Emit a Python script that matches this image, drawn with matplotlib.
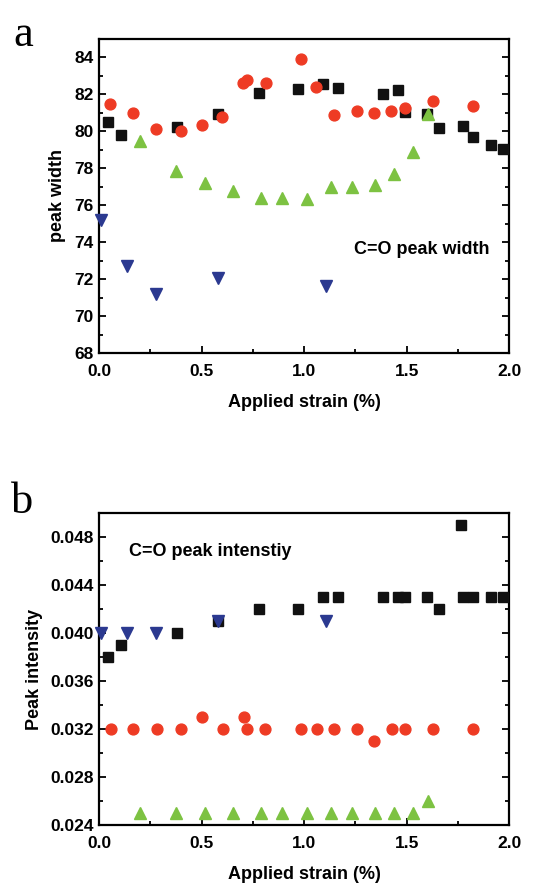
import matplotlib
matplotlib.use("Agg")
import matplotlib.pyplot as plt
from matplotlib.ticker import MultipleLocator, FormatStrFormatter

plt.rcParams['font.family'] = ['Liberation Sans', 'DejaVu Sans']
plt.rcParams['font.weight'] = 'bold'

# ---- Panel a: peak width ----
a_sq_x = [0.042, 0.106, 0.382, 0.582, 0.779, 0.969, 1.094, 1.167, 1.385, 1.459, 1.493, 1.600, 1.659, 1.774, 1.824, 1.910, 1.972]
a_sq_y = [80.5, 79.8, 80.25, 80.95, 82.1, 82.3, 82.57, 82.33, 82.0, 82.22, 81.07, 80.96, 80.18, 80.27, 79.72, 79.25, 79.05]

a_ci_x = [0.055, 0.167, 0.280, 0.400, 0.504, 0.602, 0.701, 0.724, 0.813, 0.984, 1.060, 1.146, 1.259, 1.343, 1.424, 1.491, 1.629, 1.824]
a_ci_y = [81.5, 80.97, 80.1, 80.0, 80.36, 80.76, 82.59, 82.77, 82.62, 83.9, 82.39, 80.87, 81.12, 80.97, 81.12, 81.25, 81.66, 81.37]

a_tu_x = [0.200, 0.377, 0.519, 0.652, 0.790, 0.894, 1.015, 1.132, 1.236, 1.348, 1.440, 1.532, 1.603]
a_tu_y = [79.45, 77.86, 77.19, 76.77, 76.38, 76.38, 76.32, 77.0, 77.0, 77.1, 77.7, 78.9, 80.94]

a_td_x = [0.008, 0.137, 0.280, 0.582, 1.109]
a_td_y = [75.2, 72.71, 71.21, 72.08, 71.65]

# ---- Panel b: peak intensity ----
b_sq_x = [0.042, 0.106, 0.382, 0.582, 0.779, 0.969, 1.094, 1.167, 1.385, 1.459, 1.493, 1.600, 1.659, 1.766, 1.774, 1.824, 1.910, 1.972]
b_sq_y = [0.038, 0.039, 0.040, 0.041, 0.042, 0.042, 0.043, 0.043, 0.043, 0.043, 0.043, 0.043, 0.042, 0.049, 0.043, 0.043, 0.043, 0.043]

b_ci_x = [0.057, 0.167, 0.283, 0.400, 0.504, 0.603, 0.705, 0.723, 0.810, 0.984, 1.062, 1.148, 1.259, 1.343, 1.428, 1.490, 1.629, 1.824]
b_ci_y = [0.032, 0.032, 0.032, 0.032, 0.033, 0.032, 0.033, 0.032, 0.032, 0.032, 0.032, 0.032, 0.032, 0.031, 0.032, 0.032, 0.032, 0.032]

b_tu_x = [0.200, 0.377, 0.519, 0.652, 0.790, 0.894, 1.015, 1.130, 1.233, 1.348, 1.440, 1.532, 1.605]
b_tu_y = [0.025, 0.025, 0.025, 0.025, 0.025, 0.025, 0.025, 0.025, 0.025, 0.025, 0.025, 0.025, 0.026]

b_td_x = [0.008, 0.137, 0.280, 0.582, 1.109]
b_td_y = [0.040, 0.040, 0.040, 0.041, 0.041]

c_black = '#111111'
c_red = '#EE3B24'
c_green = '#7DC242'
c_blue = '#2B3990'

FS = 12.5

fig = plt.figure(figsize=(5.44, 8.86), dpi=100)
ax1 = fig.add_axes([0.182, 0.6016, 0.754, 0.3544])
ax2 = fig.add_axes([0.182, 0.0688, 0.754, 0.3521])


def style(ax):
    ax.tick_params(which='both', direction='in', top=False, right=True,
                   labelsize=FS, width=1.3)
    ax.tick_params(axis='x', which='both', pad=8)
    ax.tick_params(axis='y', which='both', pad=4)
    ax.tick_params(which='major', length=5)
    ax.tick_params(which='minor', length=3)
    for s in ax.spines.values():
        s.set_linewidth(1.6)
    for lab in ax.get_xticklabels() + ax.get_yticklabels():
        lab.set_fontweight('bold')
    ax.xaxis.set_major_locator(MultipleLocator(0.5))
    ax.xaxis.set_minor_locator(MultipleLocator(0.25))
    ax.set_xlim(0, 2.0)
    ax.set_xlabel('Applied strain (%)', fontsize=13, fontweight='bold', labelpad=11)


def series(ax, sx, sy, cx, cy, tux, tuy, tdx, tdy):
    ax.plot(sx, sy, 's', color=c_black, ms=6.8, mec=c_black, ls='none', clip_on=False, zorder=3)
    ax.plot(cx, cy, 'o', color=c_red, ms=7.8, mec=c_red, ls='none', clip_on=False, zorder=3)
    ax.plot(tux, tuy, '^', color=c_green, ms=8.2, mec=c_green, ls='none', clip_on=False, zorder=3)
    ax.plot(tdx, tdy, 'v', color=c_blue, ms=8.2, mec=c_blue, ls='none', clip_on=False, zorder=3)


series(ax1, a_sq_x, a_sq_y, a_ci_x, a_ci_y, a_tu_x, a_tu_y, a_td_x, a_td_y)
ax1.set_ylim(68, 85)
ax1.yaxis.set_major_locator(MultipleLocator(2))
ax1.yaxis.set_minor_locator(MultipleLocator(1))
ax1.set_ylabel('peak width', fontsize=13, fontweight='bold', labelpad=6)
style(ax1)
ax1.text(1.576, 73.6, 'C=O peak width', fontsize=13, fontweight='bold', ha='center', va='center')

series(ax2, b_sq_x, b_sq_y, b_ci_x, b_ci_y, b_tu_x, b_tu_y, b_td_x, b_td_y)
ax2.set_ylim(0.024, 0.050)
ax2.yaxis.set_major_locator(MultipleLocator(0.004))
ax2.yaxis.set_minor_locator(MultipleLocator(0.002))
ax2.yaxis.set_major_formatter(FormatStrFormatter('%.3f'))
ax2.set_ylabel('Peak intensity', fontsize=13, fontweight='bold', labelpad=5)
style(ax2)
ax2.text(0.541, 0.0468, 'C=O peak intenstiy', fontsize=13, fontweight='bold', ha='center', va='center')

fig.text(0.024, 0.961, 'a', fontsize=32, family=['Liberation Serif', 'DejaVu Serif'],
         fontweight='normal', va='center', ha='left')
fig.text(0.020, 0.433, 'b', fontsize=32, family=['Liberation Serif', 'DejaVu Serif'],
         fontweight='normal', va='center', ha='left')

fig.savefig('out.png', dpi=100)
